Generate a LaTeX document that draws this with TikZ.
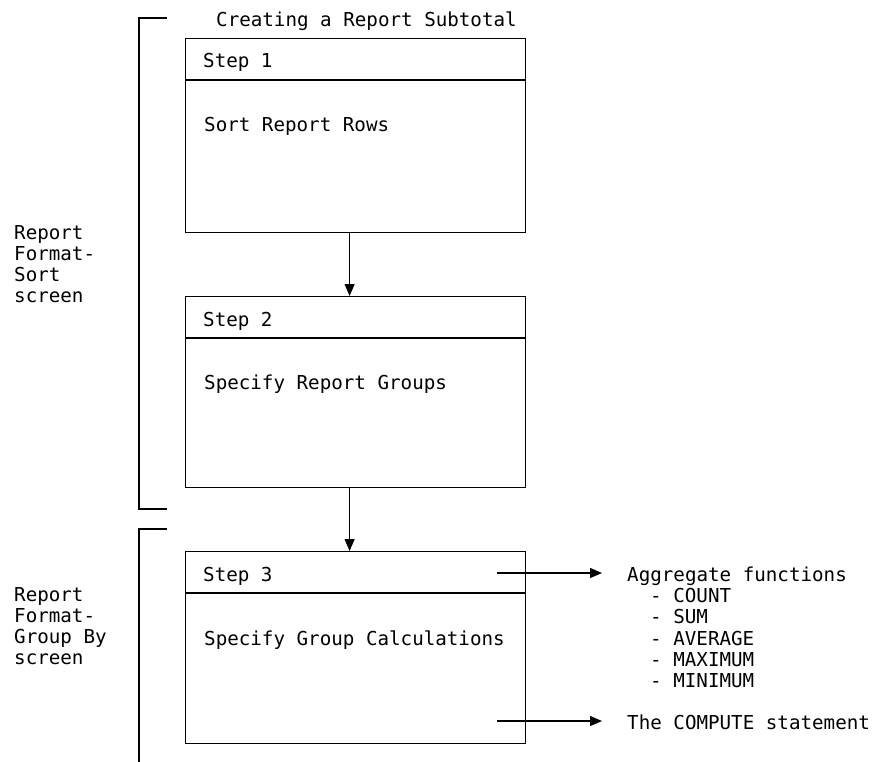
\documentclass[tikz,border=0pt]{standalone}
\usepackage{fontspec}
\setmonofont{DejaVu Sans Mono}
\usetikzlibrary{arrows.meta}
\begin{document}
\begin{tikzpicture}[x=1pt,y=-1pt,
  every node/.style={font=\ttfamily\fontsize{19.2}{21}\selectfont, inner sep=0pt},
  ln/.style={line width=1.2pt},
  stepbox/.style={draw, line width=1.2pt, minimum width=340pt, anchor=north west},
  lbl/.style={anchor=base west},
  arr/.style={line width=1.2pt, -{Triangle[length=12pt,width=10pt]}}]
\useasboundingbox (0,0) rectangle (875,762);

% screen brackets
\draw[ln] (167,18) -- (139,18) -- (139,509) -- (167,509);
\draw[ln] (167,529) -- (139,529) -- (139,762);

% title
\node[lbl] (title) at (216,27) {Creating a Report Subtotal};

% screen names
\node[lbl] (l1a) at (14,239) {Report};
\node[lbl] (l1b) at (14,260) {Format-};
\node[lbl] (l1c) at (14,281) {Sort};
\node[lbl] (l1d) at (14,302) {screen};
\node[lbl] (l2a) at (14,601) {Report};
\node[lbl] (l2b) at (14,622) {Format-};
\node[lbl] (l2c) at (14,643) {Group By};
\node[lbl] (l2d) at (14,664) {screen};

% step boxes
\node[stepbox, minimum height=194pt] (box1) at (185,38) {};
\node[stepbox, minimum height=191pt] (box2) at (185,296) {};
\node[stepbox, minimum height=192pt] (box3) at (185,551) {};
\foreach \b in {box1,box2,box3}
  \draw[ln] ([yshift=-42pt]\b.north west) -- ([yshift=-42pt]\b.north east);

\node[lbl] (s1) at (203,68) {Step 1};
\node[lbl] (t1) at (204,132) {Sort Report Rows};
\node[lbl] (s2) at (203,326) {Step 2};
\node[lbl] (t2) at (204,389) {Specify Report Groups};
\node[lbl] (s3) at (203,581) {Step 3};
\node[lbl] (t3) at (204,645) {Specify Group Calculations};

% flow between steps
\draw[arr] ([xshift=-6pt]box1.south) -- ([xshift=-6pt]box2.north);
\draw[arr] ([xshift=-6pt]box2.south) -- ([xshift=-6pt]box3.north);

% calculation options
\node[lbl] (agg) at (627,581) {Aggregate functions};
\node[lbl] (f1) at (650,602) {- COUNT};
\node[lbl] (f2) at (650,623) {- SUM};
\node[lbl] (f3) at (650,645) {- AVERAGE};
\node[lbl] (f4) at (650,666) {- MAXIMUM};
\node[lbl] (f5) at (650,687) {- MINIMUM};
\node[lbl] (comp) at (627,729) {The COMPUTE statement};

\coordinate (o1) at (497,573);
\coordinate (o2) at (497,721);
\draw[arr] (o1) -- ([xshift=-25pt,yshift=8pt]agg.base west);
\draw[arr] (o2) -- ([xshift=-25pt,yshift=8pt]comp.base west);
\end{tikzpicture}
\end{document}
